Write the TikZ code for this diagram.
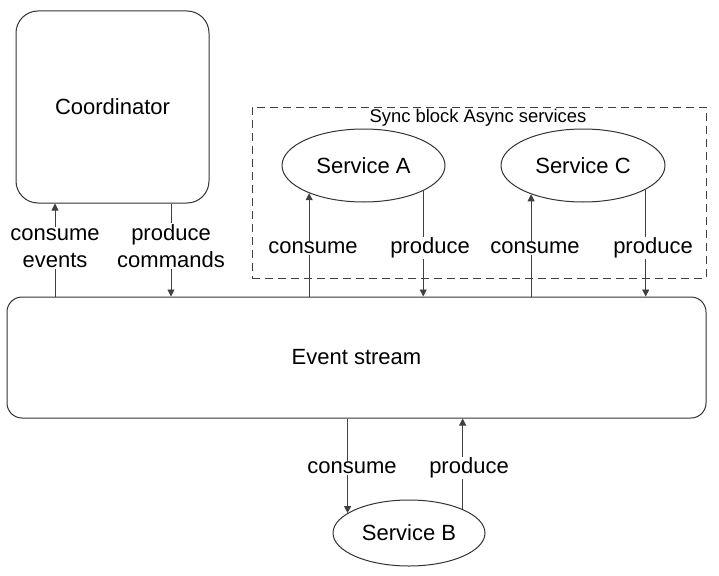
\documentclass[tikz,border=0pt]{standalone}
\usepackage{fontspec}
\setmainfont{Liberation Sans}
\usetikzlibrary{arrows.meta,shapes.geometric}
\begin{document}
\begin{tikzpicture}[x=1pt,y=-1pt,
  shapeline/.style={draw=black!80,line width=1pt},
  boxnode/.style={shapeline,rectangle,inner sep=0pt},
  svc/.style={shapeline,ellipse,inner sep=0pt,font=\fontsize{22}{26}\selectfont},
  conn/.style={draw=black!75,line width=0.9pt,-{Triangle[length=7pt,width=7pt]}},
  lbl/.style={fill=white,inner sep=1pt,font=\fontsize{22}{27}\selectfont,align=center},
]
\useasboundingbox (0,0) rectangle (719,575);
% boxes
\node[boxnode,rounded corners=22pt,minimum width=193pt,minimum height=192pt,
  font=\fontsize{22}{26}\selectfont] (coord) at (112.5,107) {Coordinator};
\node[boxnode,rounded corners=15pt,minimum width=699pt,minimum height=121pt,
  font=\fontsize{22}{26}\selectfont] (es) at (356.5,357.5) {Event stream};
\node[draw=black!75,line width=0.8pt,dash pattern=on 8pt off 5pt,rectangle,inner sep=0pt,
  minimum width=454pt,minimum height=171pt] (sync) at (479,192.5) {};
\node[font=\fontsize{18.4}{22}\selectfont,inner sep=1pt] (synct) at (478,117.5) {Sync block Async services};
% services
\node[svc,minimum width=163pt,minimum height=73pt] (sa) at (363.5,165.5) {Service A};
\node[svc,minimum width=164pt,minimum height=73pt] (sc) at (583,165.5) {Service C};
\node[svc,minimum width=152pt,minimum height=66pt] (sb) at (409,533) {Service B};
% connectors
\draw[conn] (es.north -| 55,0) -- (coord.south -| 55,0);
\draw[conn] (coord.south -| 171,0) -- (es.north -| 171,0);
\draw[conn] (es.north -| sa.207.2) -- (sa.207.2);
\draw[conn] (sa.337.3) -- (es.north -| sa.337.3);
\draw[conn] (es.north -| sc.209.3) -- (sc.209.3);
\draw[conn] (sc.339.6) -- (es.north -| sc.339.6);
\draw[conn] (es.south -| sb.162.1) -- (sb.162.1);
\draw[conn] (sb.24.1) -- (es.south -| sb.24.1);
% labels
\node[lbl] (l1) at (55,248) {consume\\events};
\node[lbl] (l2) at (171,246) {produce\\commands};
\node[lbl] (l3) at (313,248) {consume};
\node[lbl] (l4) at (430,248) {produce};
\node[lbl] (l5) at (535,248) {consume};
\node[lbl] (l6) at (653,248) {produce};
\node[lbl] (l7) at (352,468) {consume};
\node[lbl] (l8) at (469,468) {produce};
\end{tikzpicture}
\end{document}
